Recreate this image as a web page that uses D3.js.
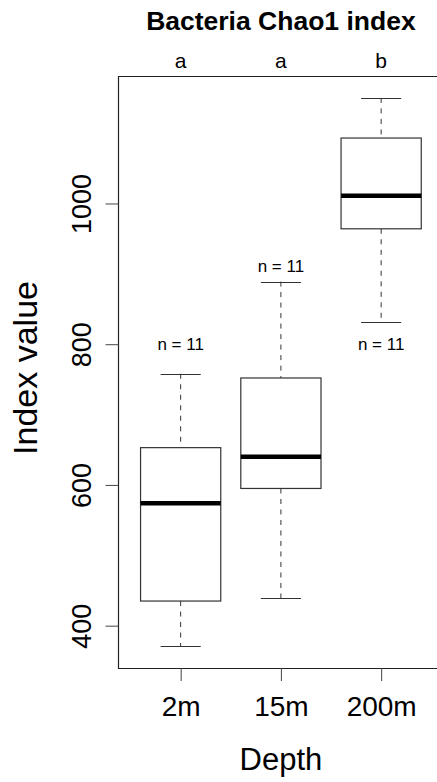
<!DOCTYPE html>
<html>
  <head>
    <meta charset="utf-8">
    <title>Bacteria Chao1 index</title>
    <style>
      body { margin: 0; background: #fff; overflow: hidden; }
      svg { display: block; font-family: "Liberation Sans", Arial, sans-serif; }
      .whisker { stroke: #333; stroke-width: 1; stroke-dasharray: 5,5.5; }
      .cap, .box { stroke: #333; stroke-width: 1.2; fill: none; }
      .median { stroke: #000; stroke-width: 4.5; }
      .frame { stroke: #222; stroke-width: 1.2; }
    </style>
  </head>
  <body>
    <div id="chart"></div>
    <script src="https://d3js.org/d3.v7.min.js"></script>
    <script>
    // data
    var depths = ['2m', '15m', '200m'];
    var letters = ['a', 'a', 'b'];
    var counts = [11, 11, 11];
    var lowWhisker = [371, 439, 832];
    var q1 = [435, 595, 964];
    var medians = [574, 640, 1011];
    var q3 = [653, 752, 1093];
    var highWhisker = [758, 889, 1150];
    var nLabelAt = [800, 912, 800];   // where the "n = " text sits (data units)
    var yTicks = [400, 600, 800, 1000];

    var width = 437, height = 782;
    var plot = { left: 118.5, top: 76, bottom: 668 };

    var svg = d3.select('#chart')
      .append('svg')
      .attr('width', width)
      .attr('height', height);

    // R style 4% padding on both axes
    var lo = d3.min(lowWhisker), hi = d3.max(highWhisker);
    var pad = (hi - lo) * 0.04;
    var y = d3.scaleLinear()
      .domain([lo - pad, hi + pad])
      .range([plot.bottom, plot.top]);

    var x = d3.scaleLinear()
      .domain([0.38, 3.62])
      .range([plot.left, plot.left + 3.24 * 100.25]);

    var boxW = 0.8, capW = 0.4;

    var boxes = svg.selectAll('.bp')
      .data(depths)
      .enter()
      .append('g')
      .attr('class', 'bp');

    // dashed whiskers
    boxes.append('line').attr('class', 'whisker')
      .attr('x1', function(d, i) { return x(i + 1); })
      .attr('x2', function(d, i) { return x(i + 1); })
      .attr('y1', function(d, i) { return y(highWhisker[i]); })
      .attr('y2', function(d, i) { return y(q3[i]); });
    boxes.append('line').attr('class', 'whisker')
      .attr('x1', function(d, i) { return x(i + 1); })
      .attr('x2', function(d, i) { return x(i + 1); })
      .attr('y1', function(d, i) { return y(q1[i]); })
      .attr('y2', function(d, i) { return y(lowWhisker[i]); });

    // caps
    [highWhisker, lowWhisker].forEach(function(arr) {
      boxes.append('line').attr('class', 'cap')
        .attr('x1', function(d, i) { return x(i + 1 - capW / 2); })
        .attr('x2', function(d, i) { return x(i + 1 + capW / 2); })
        .attr('y1', function(d, i) { return Math.round(y(arr[i])) + 0.5; })
        .attr('y2', function(d, i) { return Math.round(y(arr[i])) + 0.5; });
    });

    boxes.append('rect').attr('class', 'box')
      .attr('x', function(d, i) { return x(i + 1 - boxW / 2); })
      .attr('width', x(1 + boxW) - x(1))
      .attr('y', function(d, i) { return y(q3[i]); })
      .attr('height', function(d, i) { return y(q1[i]) - y(q3[i]); });

    boxes.append('line').attr('class', 'median')
      .attr('x1', function(d, i) { return x(i + 1 - boxW / 2); })
      .attr('x2', function(d, i) { return x(i + 1 + boxW / 2); })
      .attr('y1', function(d, i) { return y(medians[i]); })
      .attr('y2', function(d, i) { return y(medians[i]); });

    // n = labels
    boxes.append('text')
      .attr('x', function(d, i) { return x(i + 1); })
      .attr('y', function(d, i) { return y(nLabelAt[i]); })
      .attr('dy', '0.36em')
      .attr('text-anchor', 'middle')
      .style('font-size', '17px')
      .text(function(d, i) { return 'n = ' + counts[i]; });

    // frame: top, left, bottom (right side runs off the canvas)
    var xEnd = x(3.62);
    svg.append('line').attr('class', 'frame')
      .attr('x1', plot.left).attr('x2', xEnd)
      .attr('y1', plot.top + 0.5).attr('y2', plot.top + 0.5);
    svg.append('line').attr('class', 'frame')
      .attr('x1', plot.left).attr('x2', xEnd)
      .attr('y1', plot.bottom + 0.5).attr('y2', plot.bottom + 0.5);
    svg.append('line').attr('class', 'frame')
      .attr('x1', plot.left).attr('x2', plot.left)
      .attr('y1', plot.top).attr('y2', plot.bottom + 1);

    // y axis
    var yAxis = d3.axisLeft(y).tickValues(yTicks).tickSize(13).tickFormat(d3.format('d'));
    var gy = svg.append('g')
      .attr('transform', 'translate(' + plot.left + ',0)')
      .call(yAxis);
    gy.select('.domain').remove();
    gy.selectAll('.tick line').attr('stroke', '#444');
    gy.selectAll('.tick text')
      .attr('x', 0).attr('y', 0).attr('dy', 0)
      .attr('transform', 'translate(-28,0) rotate(-90)')
      .attr('text-anchor', 'middle')
      .style('font-size', '27px')
      .style('fill', '#000');

    // x axis
    var xAxis = d3.axisBottom(x).tickValues([1, 2, 3]).tickSize(13)
      .tickFormat(function(d) { return depths[d - 1]; });
    var gx = svg.append('g')
      .attr('transform', 'translate(0,' + plot.bottom + ')')
      .call(xAxis);
    gx.select('.domain').remove();
    gx.selectAll('.tick line').attr('stroke', '#444');
    gx.selectAll('.tick text')
      .attr('y', 48).attr('dy', 0)
      .style('font-size', '28px')
      .style('fill', '#000');

    // significance letters
    svg.selectAll('.letter')
      .data(letters)
      .enter()
      .append('text')
      .attr('class', 'letter')
      .attr('x', function(d, i) { return x(i + 1); })
      .attr('y', 68)
      .attr('text-anchor', 'middle')
      .style('font-size', '21px')
      .text(function(d) { return d; });

    var midX = (plot.left + xEnd) / 2;
    svg.append('text')
      .attr('x', midX)
      .attr('y', 30)
      .attr('text-anchor', 'middle')
      .style('font-size', '26.5px')
      .style('font-weight', 'bold')
      .text('Bacteria Chao1 index');

    svg.append('text')
      .attr('x', midX)
      .attr('y', 770)
      .attr('text-anchor', 'middle')
      .style('font-size', '31px')
      .text('Depth');

    svg.append('text')
      .attr('transform', 'translate(37,' + 368 + ') rotate(-90)')
      .attr('text-anchor', 'middle')
      .style('font-size', '34px')
      .text('Index value');
    </script>
  </body>
</html>
